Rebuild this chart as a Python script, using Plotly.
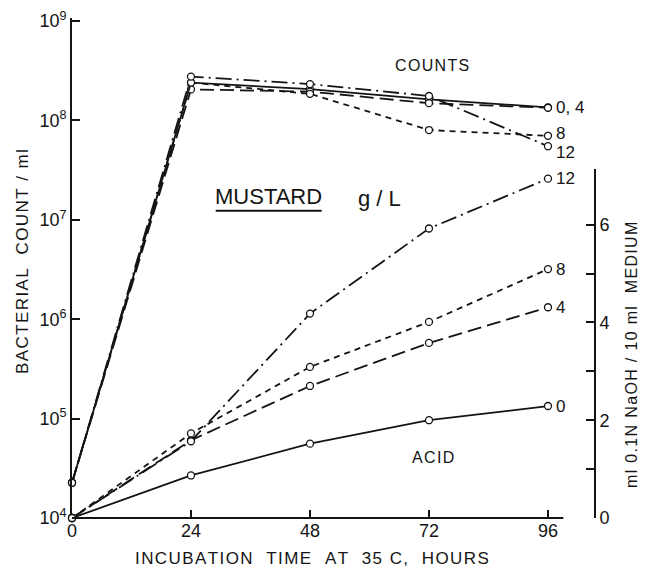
import math
import plotly.graph_objects as go

# ---------------- data ----------------
hours = [0, 24, 48, 72, 96]
mustard_levels = ["0", "4", "8", "12"]

counts_0 = [2.26e4, 2.40e8, 2.06e8, 1.63e8, 1.35e8]
counts_4 = [2.26e4, 2.05e8, 1.95e8, 1.49e8, 1.34e8]
counts_8 = [2.26e4, 2.40e8, 1.85e8, 8.0e7, 7.0e7]
counts_12 = [2.26e4, 2.76e8, 2.32e8, 1.76e8, 5.5e7]

acid_0 = [0, 0.87, 1.52, 2.00, 2.29]
acid_4 = [0, 1.59, 2.70, 3.58, 4.31]
acid_8 = [0, 1.73, 3.09, 4.01, 5.09]
acid_12 = [0, 1.57, 4.18, 5.92, 6.94]

count_tick_vals = [1e4, 1e5, 1e6, 1e7, 1e8, 1e9]
count_tick_text = ["10<sup>4</sup>", "10<sup>5</sup>", "10<sup>6</sup>",
                   "10<sup>7</sup>", "10<sup>8</sup>", "10<sup>9</sup>"]
acid_tick_vals = [0, 2, 4, 6]
acid_tick_text = ["0", "2", "4", "6"]
acid_minor_vals = [1, 3, 5, 7.13]

counts_all = [counts_0, counts_4, counts_8, counts_12]
acid_all = [acid_0, acid_4, acid_8, acid_12]

# ---------------- layout geometry ----------------
W, H = 647, 573
ML, MR, MT, MB = 72, 53, 18, 55
PW = W - ML - MR
PH = H - MT - MB
PX_PER_DECADE = 99.4
PX_PER_HOUR = 4.958
PX_PER_ML = 48.9


def px(x):
    return (x - ML) / PW


def py(y):
    return (H - MB - y) / PH


def spaced(s):
    return "\u200a".join(s)


FONT = "Liberation Sans, Arial, sans-serif"
INK = "#141414"
dashes = {"0": "solid", "4": "14px,6px", "8": "6px,5px", "12": "16px,5px,2px,5px"}

fig = go.Figure()

for lvl, cnt, acd in zip(mustard_levels, counts_all, acid_all):
    style = dict(color=INK, width=1.8, dash=dashes[lvl])
    mk = dict(size=7, color="white", line=dict(color=INK, width=1.3))
    fig.add_trace(go.Scatter(x=hours, y=cnt, mode="lines+markers", line=style,
                             marker=mk, xaxis="x", yaxis="y", cliponaxis=False,
                             showlegend=False, name=f"counts {lvl} g/L"))
    fig.add_trace(go.Scatter(x=hours, y=acd, mode="lines+markers", line=style,
                             marker=mk, xaxis="x", yaxis="y2", cliponaxis=False,
                             showlegend=False, name=f"acid {lvl} g/L"))

y2_top_px = 169
y2_domain_top = (H - MB - y2_top_px) / PH
y2_range_top = (H - MB - y2_top_px) / PX_PER_ML

fig.update_layout(
    width=W, height=H,
    margin=dict(l=ML, r=MR, t=MT, b=MB, pad=0, autoexpand=False),
    paper_bgcolor="white", plot_bgcolor="rgba(0,0,0,0)",
    font=dict(family=FONT, color=INK, size=18),
    xaxis=dict(range=[0, PW / PX_PER_HOUR], tickvals=hours,
               ticks="inside", ticklen=8, tickwidth=1.8, tickcolor=INK,
               showline=False, showgrid=False, zeroline=False,
               tickfont=dict(size=18), anchor="y", automargin=False),
    yaxis=dict(type="log", range=[4, 4 + PH / PX_PER_DECADE],
               tickvals=count_tick_vals, ticktext=count_tick_text,
               ticks="inside", ticklen=8, tickwidth=1.8, tickcolor=INK,
               showline=True, linewidth=1.8, linecolor=INK,
               showgrid=False, zeroline=False, tickfont=dict(size=18),
               anchor="x", automargin=False),
    yaxis2=dict(domain=[0, y2_domain_top], range=[0, y2_range_top],
                tickvals=acid_tick_vals, ticktext=acid_tick_text,
                ticks="inside", ticklen=8, tickwidth=1.8, tickcolor=INK,
                minor=dict(tickvals=acid_minor_vals, ticks="inside", ticklen=8,
                           tickwidth=1.8, tickcolor=INK, showgrid=False),
                showline=True, linewidth=1.8, linecolor=INK,
                showgrid=False, zeroline=False, tickfont=dict(size=18),
                anchor="x", side="right", automargin=False),
)

# x-axis baseline (stops short of the right axis, as in the original)
fig.add_shape(type="line", xref="x", yref="paper", x0=0, x1=99.1, y0=0, y1=0,
              line=dict(color=INK, width=1.8))

annos = []
# axis titles
annos.append(dict(text=spaced("BACTERIAL  COUNT / ml"), x=px(22), y=py(262),
                  textangle=-90, font=dict(size=17)))
annos.append(dict(text=spaced("ml 0.1N NaOH / 10 ml  MEDIUM"), x=px(632), y=py(355),
                  textangle=-90, font=dict(size=16)))
annos.append(dict(text=spaced("INCUBATION  TIME  AT  35 C,  HOURS"), x=px(312), y=py(558),
                  font=dict(size=17)))
# inner labels
annos.append(dict(text=spaced("COUNTS"), x=px(432), y=py(66), font=dict(size=16)))
annos.append(dict(text="MUSTARD", x=px(268.7), y=py(196), font=dict(size=22)))
annos.append(dict(text="g / L", x=px(379), y=py(198), font=dict(size=22)))
annos.append(dict(text=spaced("ACID"), x=px(433), y=py(457), font=dict(size=16)))
for a in annos:
    a.update(xref="paper", yref="paper", showarrow=False, xanchor="center", yanchor="middle")
    fig.add_annotation(**a)

# MUSTARD underline
fig.add_shape(type="line", xref="paper", yref="paper", x0=px(215.7), x1=px(321.7),
              y0=py(210.7), y1=py(210.7), line=dict(color=INK, width=2))

# end-of-line labels
end_labels = [
    ("0, 4", counts_0, "y", True, 0),
    ("8", counts_8, "y", True, 2),
    ("12", counts_12, "y", True, -6),
    ("12", acid_12, "y2", False, 0),
    ("8", acid_8, "y2", False, 0),
    ("4", acid_4, "y2", False, 0),
    ("0", acid_0, "y2", False, 0),
]
for txt, series, yref, is_log, ysh in end_labels:
    yv = math.log10(series[-1]) if is_log else series[-1]
    fig.add_annotation(text=txt, x=hours[-1], y=yv, xref="x", yref=yref,
                       showarrow=False, xanchor="left", yanchor="middle",
                       xshift=6, yshift=ysh, font=dict(size=17))

fig.write_html("out.html", config={"displayModeBar": False},
               post_script="document.body.style.margin='0';document.body.style.overflow='hidden';")
